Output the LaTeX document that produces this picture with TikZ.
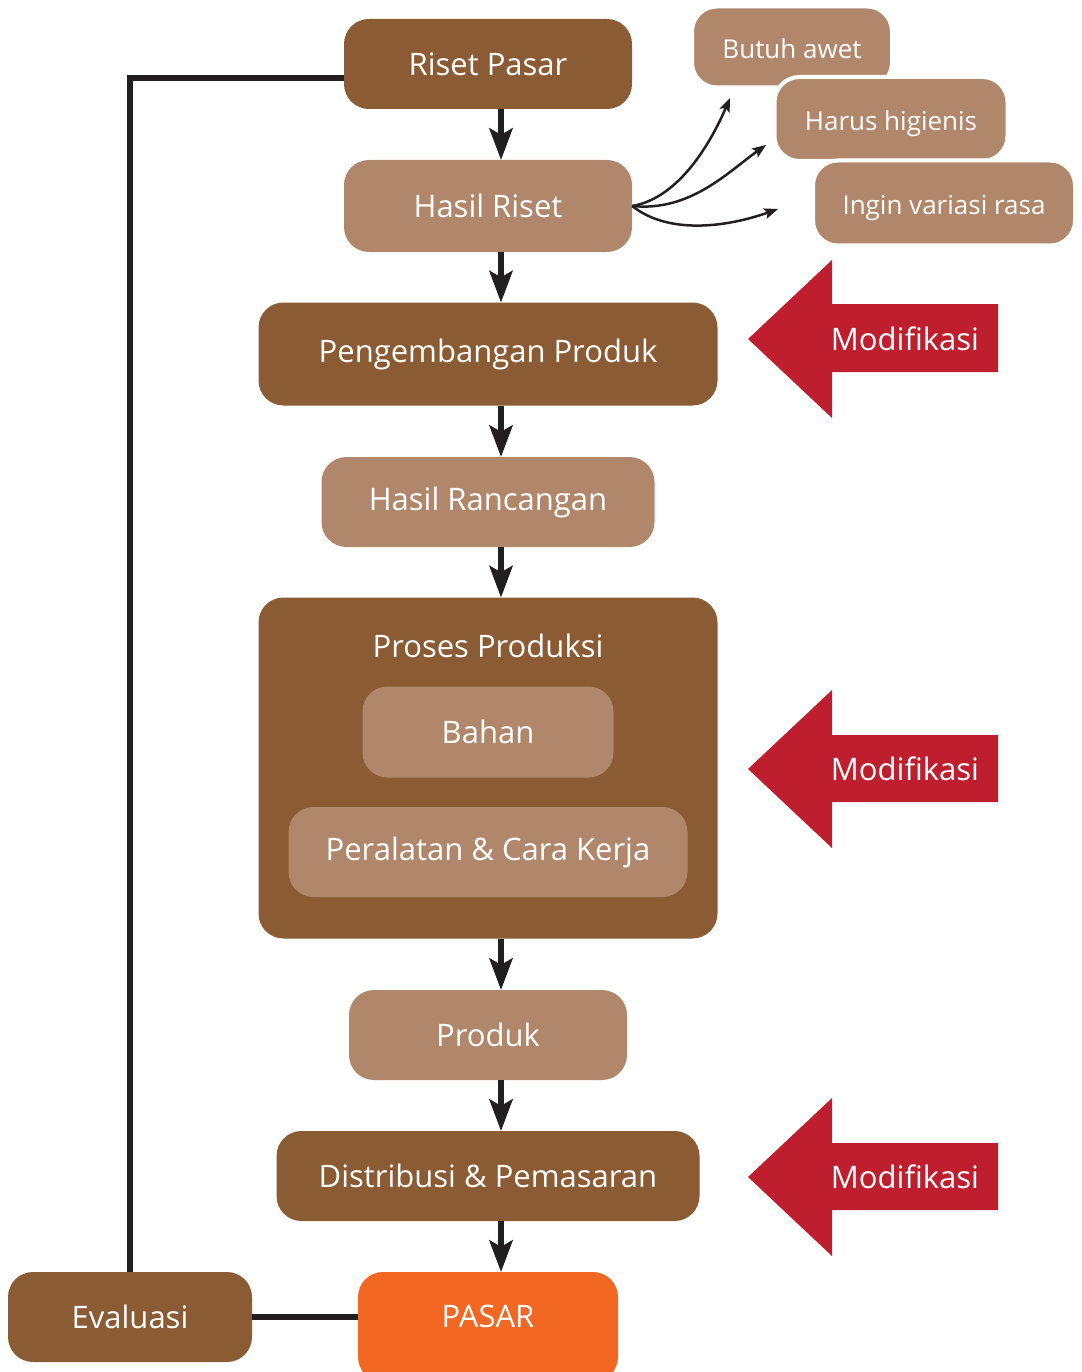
\documentclass[tikz,border=0pt]{standalone}
\usepackage{fontspec}
\setmainfont{Open Sans}
\usepackage{tikz}
\usetikzlibrary{arrows.meta}
\definecolor{darkbrown}{HTML}{8B5B34}
\definecolor{lightbrown}{HTML}{B0876A}
\definecolor{pasarorange}{HTML}{F26722}
\definecolor{modred}{HTML}{BE1E2D}
\definecolor{arrowblack}{HTML}{231F20}

\begin{document}
\begin{tikzpicture}[x=1pt,y=-1pt]
\tikzset{box/.style = {rounded corners=25pt,text=white,inner sep=0pt,font=\fontsize{31}{37}\selectfont}}
\tikzset{darkbox/.style = {box,fill=darkbrown}}
\tikzset{lightbox/.style = {box,fill=lightbrown}}
\tikzset{bubble/.style = {box,fill=lightbrown,draw=white,line width=4pt,text height=24pt,text depth=0pt,font=\fontsize{26}{31}\selectfont}}
\tikzset{flow/.style = {line width=6pt,draw=arrowblack,-{Stealth[length=32pt,width=24pt,inset=7pt,line width=1pt]}}}
\tikzset{note/.style = {line width=2.5pt,draw=arrowblack,-{Stealth[length=14pt,width=11pt,inset=3pt,line width=1pt]}}}
\tikzset{link/.style = {line width=6pt,draw=arrowblack}}
\tikzset{modarrow/.style = {fill=modred}}
\tikzset{modtext/.style = {text=white,inner sep=0pt,font=\fontsize{31}{37}\selectfont}}
\useasboundingbox (0,0) rectangle (1081,1372);
\clip (0,0) rectangle (1081,1372);
% flow boxes
\node[darkbox,minimum width=288pt,minimum height=90pt] (riset) at (488,64) {Riset Pasar};
\node[lightbox,minimum width=288pt,minimum height=92pt] (hasilriset) at (488,206) {Hasil Riset};
\node[darkbox,minimum width=459pt,minimum height=103pt] (pengembangan) at (488,354) {Pengembangan Produk};
\node[lightbox,minimum width=333pt,minimum height=90pt] (rancangan) at (488,502) {Hasil Rancangan};
\node[darkbox,minimum width=459pt,minimum height=341pt] (proses) at (488,768) {};
\node[box] (prosestitle) at (488,646) {Proses Produksi};
\node[lightbox,minimum width=251pt,minimum height=91pt] (bahan) at (488,732) {Bahan};
\node[lightbox,minimum width=399pt,minimum height=90pt] (peralatan) at (488,852) {Peralatan \& Cara Kerja};
\node[lightbox,minimum width=278pt,minimum height=90pt] (produk) at (488,1035) {Produk};
\node[darkbox,minimum width=423pt,minimum height=90pt] (distribusi) at (488,1176) {Distribusi \& Pemasaran};
\node[box,fill=pasarorange,minimum width=260pt,minimum height=110pt,text height=22pt,text depth=22pt] (pasar) at (488,1327) {PASAR};
\node[darkbox,minimum width=244pt,minimum height=90pt] (evaluasi) at (130,1317) {Evaluasi};
% research results
\node[bubble,minimum width=200pt,minimum height=81pt] (awet) at (792,47) {Butuh awet};
\node[bubble,minimum width=233pt,minimum height=84pt] (higienis) at (891,119) {Harus higienis};
\node[bubble,minimum width=262pt,minimum height=85pt] (rasa) at (944,203) {Ingin variasi rasa};
\coordinate (toawet) at (730,98);
\coordinate (tohigienis) at (766,145);
\coordinate (torasa) at (778,209);
\draw[note] (hasilriset.east) .. controls (680,198) and (712,140) .. (toawet);
\draw[note] (hasilriset.east) .. controls (690,212) and (728,172) .. (tohigienis);
\draw[note] (hasilriset.east) .. controls (670,236) and (730,226) .. (torasa);
% main flow
\draw[flow] ([xshift=13pt]riset.south) -- ([xshift=13pt]hasilriset.north);
\draw[flow] ([xshift=13pt]hasilriset.south) -- ([xshift=13pt]pengembangan.north);
\draw[flow] ([xshift=13pt]pengembangan.south) -- ([xshift=13pt]rancangan.north);
\draw[flow] ([xshift=13pt]rancangan.south) -- ([xshift=13pt]proses.north);
\draw[flow] ([xshift=13pt]proses.south) -- ([xshift=13pt]produk.north);
\draw[flow] ([xshift=13pt]produk.south) -- ([xshift=13pt]distribusi.north);
\draw[flow] ([xshift=13pt]distribusi.south) -- ([xshift=13pt]pasar.north);
% feedback
\draw[link] (evaluasi.east) -- (evaluasi.east -| pasar.west);
\draw[link] (evaluasi.north) |- ([yshift=-14pt]riset.west);
% modification arrows
\fill[modarrow] (748,339) -- (832,260) -- (832,304) -- (998,304) -- (998,372) -- (832,372) -- (832,418) -- cycle;
\node[modtext] (modprodukt) at (905,339) {Modifikasi};
\fill[modarrow] (748,769) -- (832,690) -- (832,735) -- (998,735) -- (998,802) -- (832,802) -- (832,848) -- cycle;
\node[modtext] (modproses) at (905,769) {Modifikasi};
\fill[modarrow] (748,1177) -- (832,1098) -- (832,1143) -- (998,1143) -- (998,1210) -- (832,1210) -- (832,1256) -- cycle;
\node[modtext] (modpasar) at (905,1177) {Modifikasi};
\end{tikzpicture}
\end{document}
